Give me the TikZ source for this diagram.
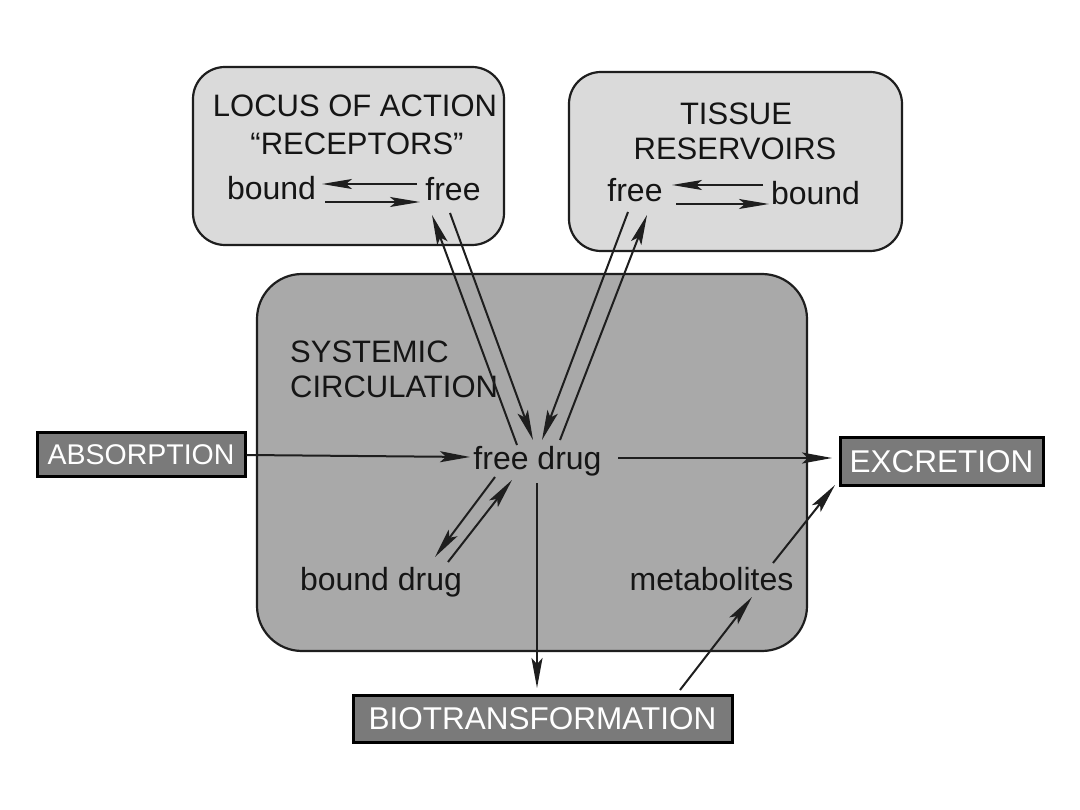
\documentclass[tikz,border=0pt]{standalone}
\usepackage{fontspec}
\setmainfont{Liberation Sans}
\usetikzlibrary{arrows.meta}
\definecolor{lightbox}{HTML}{DADADA}
\definecolor{midbox}{HTML}{A9A9A9}
\definecolor{labelbox}{HTML}{7A7A7A}
\definecolor{edge}{HTML}{1E1E1E}
\definecolor{ink}{HTML}{151515}
\tikzset{
  txt/.style={anchor=base, inner sep=0pt, text=ink, font=\fontsize{31}{37}\selectfont},
  lowtxt/.style={anchor=base, inner sep=0pt, text=ink, font=\fontsize{32}{38}\selectfont},
  lab/.style={draw=black, line width=3pt, fill=labelbox, text=white, inner sep=0pt},
  arr/.style={line width=2pt, draw=edge, -{Stealth[length=30pt,width=11pt,inset=6pt,fill=edge]}},
  eqarr/.style={line width=2pt, draw=edge, -{Stealth[length=30pt,width=10pt,inset=6pt,fill=edge]}},
  compartment/.style={draw=edge, line width=2.2pt, fill=lightbox, inner sep=0pt},
}
\begin{document}
\begin{tikzpicture}[x=1pt,y=-1pt]
\useasboundingbox[fill=white] (0,0) rectangle (1080,810);

% compartments
\node[compartment, rounded corners=32pt, minimum width=311pt, minimum height=178pt] (locus) at (348.5,156) {};
\node[compartment, rounded corners=32pt, minimum width=333pt, minimum height=179pt] (tissue) at (735.5,161.5) {};
\node[compartment, fill=midbox, rounded corners=45pt, minimum width=550pt, minimum height=377pt] (systemic) at (532,462.5) {};

% texts in locus
\node[txt] (locustitle) at (355,117) {LOCUS OF ACTION};
\node[txt] (receptors) at (357,155) {“RECEPTORS”};
\node[lowtxt] (lbound) at (271.5,200) {bound};
\node[lowtxt] (lfree) at (453,201) {free};

% texts in tissue
\node[txt] (tissuetitle) at (736,125) {TISSUE};
\node[txt] (reservoirs) at (735,160) {RESERVOIRS};
\node[lowtxt] (tfree) at (635,202) {free};
\node[lowtxt] (tbound) at (815.5,205) {bound};

% systemic circulation texts
\node[txt, anchor=base west] (systitle) at (290,363) {SYSTEMIC};
\node[txt, anchor=base west] (circ) at (290,398) {CIRCULATION};
\node[lowtxt] (freedrug) at (537.5,470) {free drug};
\node[lowtxt] (bounddrug) at (381,590) {bound drug};
\node[lowtxt] (metab) at (711.5,590) {metabolites};

% label boxes
\node[lab, minimum width=208pt, minimum height=44pt, font=\fontsize{28.5}{34}\selectfont] (absorption) at (141,455) {ABSORPTION};
\node[lab, minimum width=203pt, minimum height=47pt, font=\fontsize{31.5}{37}\selectfont] (excretion) at (941.5,461.5) {EXCRETION};
\node[lab, minimum width=379pt, minimum height=47pt, font=\fontsize{31.5}{37}\selectfont] (biotrans) at (542.5,718.5) {BIOTRANSFORMATION};

% connector end points
\coordinate (lbA) at (417,184); \coordinate (lbB) at (322,184);
\coordinate (lbC) at (325,202); \coordinate (lbD) at (420,202);
\coordinate (tbA) at (763,185); \coordinate (tbB) at (672,185);
\coordinate (tbC) at (676,204); \coordinate (tbD) at (769,204);
\coordinate (fdL1) at (517,445); \coordinate (lf1) at (432,215);
\coordinate (lf2) at (450,213); \coordinate (fdL2) at (533,440);
\coordinate (tf1) at (628,212); \coordinate (fdR1) at (542,440);
\coordinate (fdR2) at (560,440); \coordinate (tf2) at (647,215);
\coordinate (fdB1) at (495,477); \coordinate (bd1) at (435,557);
\coordinate (bd2) at (448,562); \coordinate (fdB2) at (512,480);
\coordinate (absEnd) at (470,457);
\coordinate (fdE) at (618,458); \coordinate (excIn) at (832,458);
\coordinate (fdD) at (537,483); \coordinate (bioTop) at (537,688);
\coordinate (bioOut) at (680,690); \coordinate (metIn) at (752,597);
\coordinate (metOut) at (773,563); \coordinate (excIn2) at (835,485);

% equilibria in compartments
\draw[eqarr] (lbA) -- (lbB);
\draw[eqarr] (lbC) -- (lbD);
\draw[eqarr] (tbA) -- (tbB);
\draw[eqarr] (tbC) -- (tbD);

% exchanges with free drug
\draw[arr] (fdL1) -- (lf1);
\draw[arr] (lf2) -- (fdL2);
\draw[arr] (tf1) -- (fdR1);
\draw[arr] (fdR2) -- (tf2);
\draw[arr] (fdB1) -- (bd1);
\draw[arr] (bd2) -- (fdB2);

% flows
\draw[arr] (absorption.east) -- (absEnd);
\draw[arr] (fdE) -- (excIn);
\draw[arr] (fdD) -- (bioTop);
\draw[arr] (bioOut) -- (metIn);
\draw[arr] (metOut) -- (excIn2);
\end{tikzpicture}
\end{document}
